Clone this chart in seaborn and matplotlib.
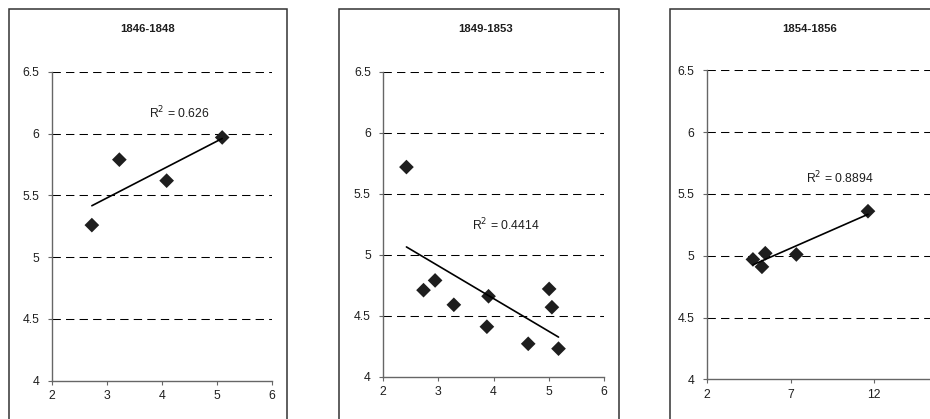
import matplotlib
matplotlib.use("Agg")
import matplotlib.pyplot as plt
import seaborn as sns
import pandas as pd
from matplotlib.patches import Rectangle

# ---- data ----
titles = ["1846-1848", "1849-1853", "1854-1856"]
r2_labels = ["0.626", "0.4414", "0.8894"]

p1_x = [2.73, 3.23, 4.09, 5.10]
p1_y = [5.26, 5.79, 5.62, 5.97]

p2_x = [2.42, 2.73, 2.94, 3.28, 3.91, 3.88, 4.63, 5.01, 5.06, 5.18]
p2_y = [5.72, 4.71, 4.79, 4.59, 4.66, 4.41, 4.27, 4.72, 4.57, 4.23]

p3_x = [4.75, 5.29, 5.49, 7.35, 11.64]
p3_y = [4.97, 4.91, 5.02, 5.01, 5.36]

y_ticks = [4, 4.5, 5, 5.5, 6, 6.5]
y_ticklabels = ["4", "4.5", "5", "5.5", "6", "6.5"]
x_ticks_12 = [2, 3, 4, 5, 6]
x_ticks_3 = [2, 7, 12]

sns.set_style("white")
plt.rcParams["font.family"] = ["Liberation Sans", "DejaVu Sans"]

W, H = 930, 419
fig = plt.figure(figsize=(W / 100, H / 100), dpi=100)


def fx(px):
    return px / W


def fy(py):
    return 1 - py / H


# axes rectangles in pixels: left, right, top(6.5), bottom(4)
axes_px = [
    (51.7, 271.7, 72.0, 380.7),
    (383.3, 603.7, 72.0, 376.7),
    (707.0, 957.5, 70.3, 379.3),
]
boxes_px = [(8.5, 287.0), (339.0, 619.3), (670.0, 1000.0)]
title_px = [147.7, 485.7, 809.3]
xlims = [(2, 6), (2, 6), (2, 17)]
xticks = [x_ticks_12, x_ticks_12, x_ticks_3]
r2_pos = [(4.32, 6.165), (4.22, 5.245), (9.98, 5.626)]
datasets = [(p1_x, p1_y), (p2_x, p2_y), (p3_x, p3_y)]

spine_col = "#666666"

for i in range(3):
    l, r, t, b = axes_px[i]
    ax = fig.add_axes([fx(l), fy(b), (r - l) / W, (b - t) / H])
    xs, ys = datasets[i]
    df = pd.DataFrame({"x": xs, "y": ys})
    for yv in y_ticks[1:]:
        ax.axhline(yv, color="black", lw=0.75, linestyle=(0, (8, 5)), zorder=1)
    sns.regplot(data=df, x="x", y="y", ax=ax, ci=None, marker="D",
                scatter_kws=dict(s=56, color="#1e1e1e", alpha=1,
                                 edgecolor="none", zorder=3),
                line_kws=dict(color="black", lw=1.2, zorder=4))
    ax.set_xlim(*xlims[i])
    ax.set_ylim(4, 6.5)
    ax.set_xticks(xticks[i])
    ax.set_xticklabels([str(v) for v in xticks[i]])
    ax.set_yticks(y_ticks)
    ax.set_yticklabels(y_ticklabels)
    ax.set_xlabel("")
    ax.set_ylabel("")
    for s in ["top", "right"]:
        ax.spines[s].set_visible(False)
    for s in ["left", "bottom"]:
        ax.spines[s].set_color(spine_col)
        ax.spines[s].set_linewidth(1.0)
    ax.tick_params(axis="both", direction="out", length=3, width=0.8,
                   color=spine_col, labelsize=8.8, labelcolor="#1e1e1e",
                   left=True, bottom=True)
    ax.tick_params(axis="y", pad=6)
    ax.tick_params(axis="x", pad=4)
    ax.patch.set_alpha(0)
    ax.text(r2_pos[i][0], r2_pos[i][1], "R$^2$ = " + r2_labels[i],
            ha="center", va="center", fontsize=8.8, color="#1e1e1e")

    bl, br = boxes_px[i]
    fig.patches.append(Rectangle((fx(bl), fy(430)), (br - bl) / W, (430 - 9.3) / H,
                                 transform=fig.transFigure, fill=False,
                                 edgecolor="#333333", lw=1.1))
    fig.text(fx(title_px[i]), fy(29), titles[i], ha="center", va="center",
             fontsize=8.2, fontweight="bold", color="#1e1e1e")

fig.savefig("out.png", dpi=100)
